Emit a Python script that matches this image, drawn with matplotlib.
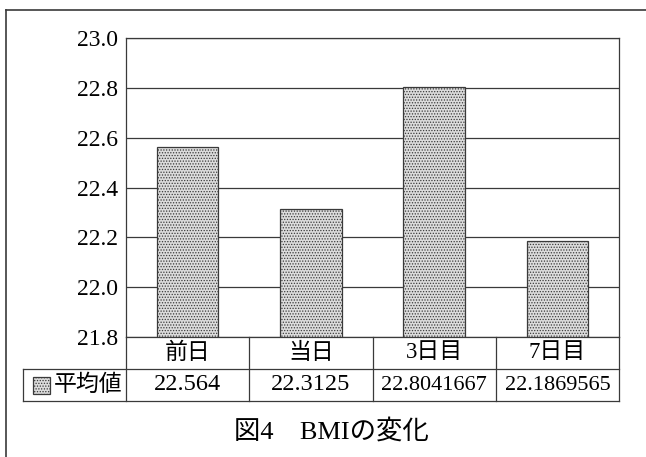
import matplotlib
matplotlib.use('Agg')
import matplotlib.pyplot as plt
from matplotlib.patches import Rectangle
from matplotlib.lines import Line2D

plt.rcParams['font.family'] = ['Liberation Serif', 'Noto Sans CJK JP']
plt.rcParams['hatch.color'] = '#808080'
plt.rcParams['hatch.linewidth'] = 0.6

categories = ['前日', '当日', '3日目', '7日目']
values = [22.564, 22.3125, 22.8041667, 22.1869565]
value_labels = ['22.564', '22.3125', '22.8041667', '22.1869565']
series_name = '平均値'
yticks = [21.8, 22.0, 22.2, 22.4, 22.6, 22.8, 23.0]
title = '図4　BMIの変化'

W, H = 646, 457
fig = plt.figure(figsize=(6.46, 4.57), dpi=100)
ax = fig.add_axes([126 / W, 1 - 337 / H, (619 - 126) / W, (337 - 38) / H])

lc = '#3a3a3a'
n = len(categories)
x = list(range(n))
ax.bar(x, [v - yticks[0] for v in values], bottom=yticks[0], width=0.5,
       color='#dcdcdc', edgecolor=lc, linewidth=0.9, hatch='......', zorder=3)
ax.set_xlim(-0.5, n - 0.5)
ax.set_ylim(yticks[0], yticks[-1])
ax.set_yticks(yticks)
ax.set_yticklabels(['%.1f' % t for t in yticks], fontsize=17)
ax.tick_params(axis='y', length=0, pad=6)
ax.set_xticks([])
ax.grid(axis='y', color=lc, linewidth=0.9, zorder=1)
for s in ax.spines.values():
    s.set_color(lc)
    s.set_linewidth(0.9)

# data table below the plot, columns follow the category axis
tr = ax.get_xaxis_transform()
rh = 32 / 299  # row height in axes fraction
left = -0.5 - 103 / 123.25  # row label column start, data units
for b in range(n + 1):
    ax.add_line(Line2D([b - 0.5, b - 0.5], [0, -2 * rh], transform=tr,
                       color=lc, linewidth=0.9, clip_on=False))
ax.add_line(Line2D([left, left], [-rh, -2 * rh], transform=tr,
                   color=lc, linewidth=0.9, clip_on=False))
ax.add_line(Line2D([left, n - 0.5], [-rh, -rh], transform=tr,
                   color=lc, linewidth=0.9, clip_on=False))
ax.add_line(Line2D([left, n - 0.5], [-2 * rh, -2 * rh], transform=tr,
                   color=lc, linewidth=0.9, clip_on=False))
for j in x:
    ax.text(j, -0.5 * rh, categories[j], transform=tr, ha='center',
            va='center', fontsize=16.5)
    fs = 17.5 if len(value_labels[j]) <= 7 else 16
    ax.text(j, -1.5 * rh, value_labels[j], transform=tr, ha='center',
            va='center', fontsize=fs)

# legend key and series name in the row label cell
fig.patches.append(Rectangle((33 / W, 1 - 394 / H), 17 / W, 17 / H,
                             transform=fig.transFigure, facecolor='#dcdcdc',
                             edgecolor=lc, linewidth=0.9, hatch='......'))
fig.text(88 / W, 1 - 385 / H, series_name, fontsize=16.5, ha='center', va='center')

fig.text(331 / W, 1 - 431 / H, title, fontsize=19, ha='center', va='center')

# outer frame (only left and top edges are visible)
fig.lines.append(Line2D([6 / W, 6 / W], [0, 1 - 10 / H], transform=fig.transFigure,
                        color=lc, linewidth=1.2))
fig.lines.append(Line2D([6 / W, 1], [1 - 10 / H, 1 - 10 / H], transform=fig.transFigure,
                        color=lc, linewidth=1.2))

fig.savefig('out.png', dpi=100)
